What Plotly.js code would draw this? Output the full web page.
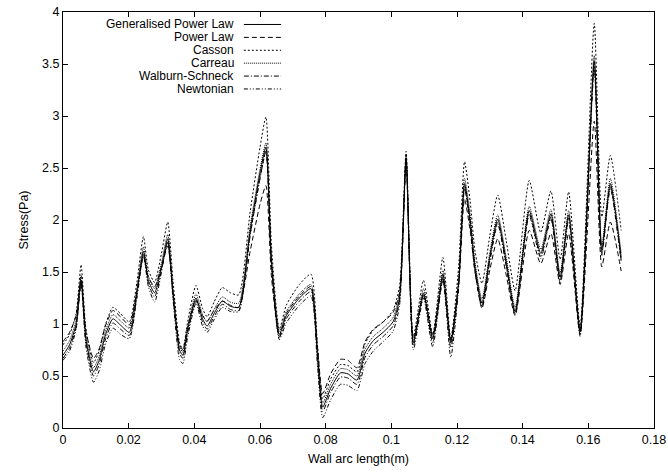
<!DOCTYPE html>
<html>
<head>
<meta charset="utf-8">
<script src="https://cdn.plot.ly/plotly-3.0.1.min.js"></script>
<style>html,body{margin:0;padding:0;background:#fff;}#chart{width:668px;height:475px;}</style>
</head>
<body>
<div id="chart"></div>
<script>
// Wall arc length (m)
const arcLength = [0.000,0.002,0.004,0.0055,0.007,0.0093,0.011,0.013,0.0152,0.0175,0.0202,0.0225,0.0245,0.026,0.0279,0.030,0.0319,0.0335,0.0355,0.0365,0.038,0.0405,0.0425,0.0439,0.046,0.0485,0.051,0.0535,0.057,0.060,0.0618,0.0635,0.0659,0.068,0.072,0.0755,0.0775,0.0791,0.0815,0.0845,0.0868,0.0895,0.092,0.0945,0.0975,0.1005,0.1025,0.1045,0.1067,0.1098,0.1126,0.1157,0.1181,0.1205,0.1223,0.1240,0.1255,0.1276,0.130,0.1324,0.1350,0.1377,0.142,0.1455,0.1486,0.1514,0.154,0.1575,0.1618,0.1641,0.1667,0.170];

const generalisedPowerLaw = [0.70,0.80,1.00,1.42,0.85,0.54,0.65,0.90,1.05,0.99,0.92,1.30,1.70,1.42,1.30,1.55,1.82,1.30,0.75,0.70,0.95,1.25,1.05,0.98,1.10,1.22,1.17,1.16,1.90,2.45,2.70,1.60,0.90,1.08,1.25,1.34,0.70,0.20,0.38,0.53,0.52,0.46,0.72,0.84,0.92,1.02,1.25,2.60,0.82,1.30,0.86,1.48,0.82,1.40,2.35,2.00,1.55,1.20,1.65,2.01,1.60,1.12,2.09,1.68,2.06,1.45,2.05,0.93,3.53,1.71,2.35,1.64];

const powerLaw = [0.83,0.92,1.08,1.45,0.93,0.67,0.76,0.99,1.13,1.07,0.99,1.32,1.65,1.45,1.36,1.55,1.75,1.30,0.80,0.75,0.98,1.23,1.08,1.03,1.13,1.22,1.18,1.16,1.70,2.15,2.33,1.45,0.88,1.10,1.27,1.36,0.78,0.33,0.52,0.66,0.65,0.58,0.83,0.95,1.02,1.11,1.30,2.55,0.86,1.28,0.89,1.42,0.85,1.38,2.20,1.90,1.50,1.15,1.52,1.82,1.47,1.08,1.90,1.58,1.87,1.38,1.87,0.90,2.95,1.55,1.98,1.51];

const casson = [0.80,0.90,1.10,1.57,0.95,0.63,0.74,1.00,1.16,1.10,1.02,1.40,1.84,1.52,1.40,1.68,1.98,1.42,0.82,0.76,1.03,1.37,1.15,1.07,1.21,1.35,1.30,1.28,2.08,2.70,2.99,1.75,0.95,1.18,1.38,1.48,0.80,0.28,0.47,0.61,0.60,0.54,0.81,0.94,1.02,1.13,1.36,2.66,0.88,1.42,0.90,1.64,0.86,1.55,2.56,2.18,1.70,1.39,1.85,2.24,1.80,1.32,2.38,1.88,2.28,1.62,2.27,0.98,3.89,2.03,2.62,1.90];

const carreau = [0.74,0.84,1.04,1.47,0.89,0.58,0.69,0.94,1.09,1.03,0.96,1.34,1.74,1.46,1.34,1.59,1.86,1.34,0.78,0.73,0.98,1.29,1.09,1.02,1.14,1.26,1.21,1.20,1.94,2.49,2.74,1.64,0.93,1.12,1.29,1.38,0.74,0.24,0.42,0.57,0.56,0.50,0.76,0.88,0.96,1.06,1.29,2.62,0.84,1.34,0.88,1.52,0.84,1.44,2.40,2.05,1.59,1.24,1.69,2.05,1.64,1.16,2.13,1.72,2.10,1.49,2.09,0.95,3.58,1.76,2.40,1.68];

const walburnSchneck = [0.67,0.77,0.97,1.40,0.82,0.50,0.61,0.86,1.01,0.95,0.89,1.27,1.67,1.39,1.26,1.52,1.79,1.27,0.72,0.67,0.92,1.22,1.02,0.95,1.07,1.19,1.14,1.13,1.86,2.40,2.66,1.57,0.87,1.05,1.22,1.31,0.66,0.16,0.34,0.49,0.48,0.42,0.68,0.80,0.88,0.98,1.22,2.58,0.79,1.27,0.82,1.45,0.77,1.37,2.32,1.97,1.52,1.17,1.62,1.98,1.57,1.10,2.06,1.65,2.03,1.42,2.02,0.91,3.48,1.68,2.32,1.61];

const newtonian = [0.65,0.74,0.95,1.40,0.78,0.44,0.55,0.81,0.96,0.90,0.86,1.25,1.66,1.36,1.21,1.50,1.79,1.24,0.66,0.62,0.88,1.20,0.98,0.92,1.04,1.16,1.12,1.12,1.85,2.40,2.66,1.56,0.85,1.01,1.18,1.27,0.60,0.10,0.27,0.42,0.41,0.36,0.62,0.74,0.83,0.93,1.18,2.57,0.75,1.25,0.78,1.43,0.68,1.35,2.30,1.95,1.49,1.16,1.60,1.96,1.55,1.09,2.04,1.63,2.01,1.40,2.00,0.88,3.45,1.66,2.30,1.59];

const seriesNames = ["Generalised Power Law","Power Law","Casson","Carreau","Walburn-Schneck","Newtonian"];
const seriesValues = [generalisedPowerLaw, powerLaw, casson, carreau, walburnSchneck, newtonian];
const seriesDash = ["solid","5px,3px","2px,2px","1px,1px","5px,2px,1px,2px","4px,2px,1px,2px,1px,2px"];

const FONT = "Liberation Sans, Arial, sans-serif";

const traces = seriesNames.map((name, i) => ({
  x: arcLength,
  y: seriesValues[i],
  type: "scatter",
  mode: "lines",
  name: name,
  line: {color: "#000", width: 1, dash: seriesDash[i], shape: "spline", smoothing: 0.6},
  showlegend: false,
  hoverinfo: "skip"
}));

// gnuplot-style legend: right-aligned label with line sample to its right
const legendTop = 0.970, legendStep = 0.031;
const annotations = [], shapes = [];
seriesNames.forEach((name, i) => {
  const yy = legendTop - i * legendStep;
  annotations.push({
    xref: "paper", yref: "paper", x: 0.291, y: yy,
    xanchor: "right", yanchor: "middle", showarrow: false, borderpad: 0,
    text: name, font: {family: FONT, size: 12, color: "#000"}
  });
  shapes.push({
    type: "line", xref: "paper", yref: "paper",
    x0: 0.306, x1: 0.369, y0: yy, y1: yy,
    line: {color: "#000", width: 1, dash: seriesDash[i]}
  });
});

const axisCommon = {
  showline: true, linecolor: "#000", linewidth: 1, mirror: "ticks",
  ticks: "inside", ticklen: 5, tickcolor: "#000", tickwidth: 1,
  showgrid: false, zeroline: false,
  tickfont: {family: FONT, size: 12.5, color: "#000"}
};

const layout = {
  width: 668, height: 475,
  margin: {l: 63, r: 14, t: 12, b: 47},
  paper_bgcolor: "#fff", plot_bgcolor: "#fff",
  font: {family: FONT, size: 12.5, color: "#000"},
  xaxis: Object.assign({}, axisCommon, {
    range: [0, 0.18], dtick: 0.02, tick0: 0,
    title: {text: "Wall arc length(m)", standoff: 8, font: {size: 12.5}}
  }),
  yaxis: Object.assign({}, axisCommon, {
    range: [0, 4], dtick: 0.5, tick0: 0,
    title: {text: "Stress(Pa)", standoff: 10, font: {size: 12.5}}
  }),
  annotations: annotations,
  shapes: shapes,
  showlegend: false
};

Plotly.newPlot("chart", traces, layout, {displayModeBar: false, staticPlot: true});
</script>
</body>
</html>
